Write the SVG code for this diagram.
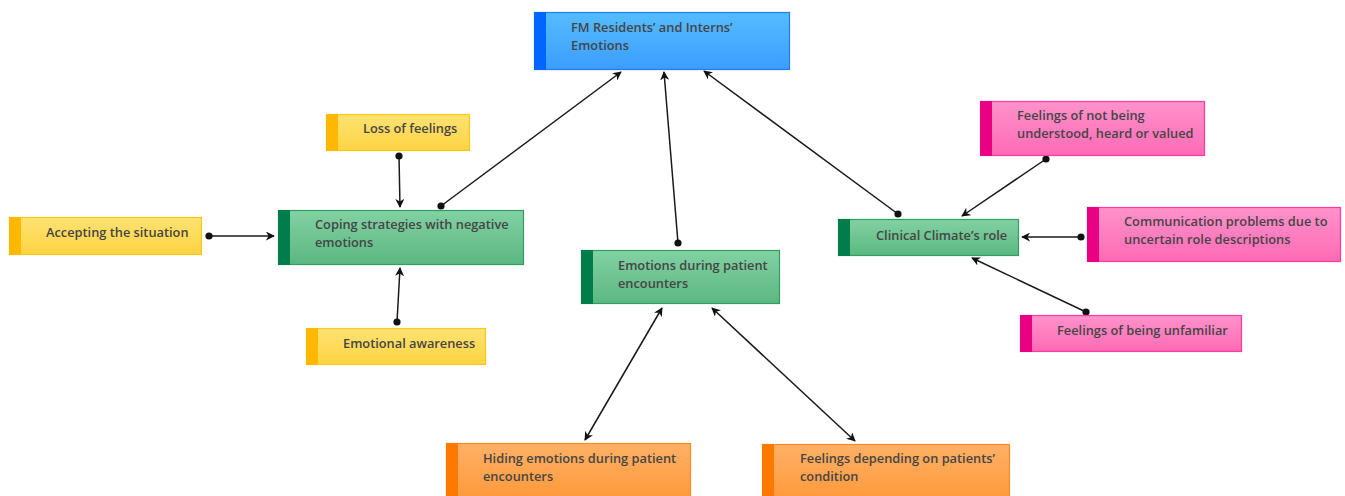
<svg xmlns="http://www.w3.org/2000/svg" width="1345" height="496" viewBox="0 0 1345 496">
<style>
text{font-family:"Open Sans","Noto Sans","DejaVu Sans",sans-serif;font-size:12.8px;font-weight:600;fill:#454545}
.c{stroke:#1a1a1a;stroke-width:1.5;fill:none}
.yb{fill:url(#gy);stroke:#ffc61a;stroke-width:1.2}
.gb{fill:url(#gg);stroke:#2e9e62;stroke-width:1.2}
.pb{fill:url(#gp);stroke:#ff3ba0;stroke-width:1.2}
.ob{fill:url(#go);stroke:#ff8a1f;stroke-width:1.2}
.bb{fill:url(#gb);stroke:#1a7dff;stroke-width:1.2}
.ys{fill:#ffb800}.gs{fill:#007d48}.ps{fill:#ea0083}.os{fill:#ff7800}.bs{fill:#0066ff}
</style>
<defs>
<linearGradient id="gy" x1="0" y1="0" x2="0" y2="1"><stop offset="0" stop-color="#ffe272"/><stop offset="1" stop-color="#ffd443"/></linearGradient>
<linearGradient id="gg" x1="0" y1="0" x2="0" y2="1"><stop offset="0" stop-color="#82d1a3"/><stop offset="1" stop-color="#5bb880"/></linearGradient>
<linearGradient id="gp" x1="0" y1="0" x2="0" y2="1"><stop offset="0" stop-color="#ff92cb"/><stop offset="1" stop-color="#ff6ab5"/></linearGradient>
<linearGradient id="go" x1="0" y1="0" x2="0" y2="1"><stop offset="0" stop-color="#ffb066"/><stop offset="1" stop-color="#ff9a3c"/></linearGradient>
<linearGradient id="gb" x1="0" y1="0" x2="0" y2="1"><stop offset="0" stop-color="#55bcff"/><stop offset="1" stop-color="#3b9eff"/></linearGradient>
<marker id="arr" viewBox="0 0 10 10" refX="9" refY="5" markerWidth="9" markerHeight="9" orient="auto-start-reverse" markerUnits="userSpaceOnUse"><path d="M0,0 L10,5 L0,10 L3,5 z" fill="#111"/></marker>
<marker id="dot" viewBox="0 0 10 10" refX="5" refY="5" markerWidth="8" markerHeight="8" markerUnits="userSpaceOnUse"><circle cx="5" cy="5" r="4.5" fill="#111"/></marker>
</defs>

<g id="connectors">
<line class="c" x1="441" y1="206" x2="621" y2="72" marker-start="url(#dot)" marker-end="url(#arr)"/>
<line class="c" x1="678" y1="243" x2="664" y2="72" marker-start="url(#dot)" marker-end="url(#arr)"/>
<line class="c" x1="898" y1="214" x2="704" y2="71" marker-start="url(#dot)" marker-end="url(#arr)"/>
<line class="c" x1="399" y1="156" x2="400" y2="207" marker-start="url(#dot)" marker-end="url(#arr)"/>
<line class="c" x1="209" y1="236" x2="274" y2="236" marker-start="url(#dot)" marker-end="url(#arr)"/>
<line class="c" x1="397" y1="322" x2="400" y2="268" marker-start="url(#dot)" marker-end="url(#arr)"/>
<line class="c" x1="662" y1="308" x2="585" y2="440" marker-start="url(#arr)" marker-end="url(#arr)"/>
<line class="c" x1="712" y1="308" x2="855" y2="441" marker-start="url(#arr)" marker-end="url(#arr)"/>
<line class="c" x1="1046" y1="159" x2="962" y2="216" marker-start="url(#dot)" marker-end="url(#arr)"/>
<line class="c" x1="1081" y1="237" x2="1022" y2="237" marker-start="url(#dot)" marker-end="url(#arr)"/>
<line class="c" x1="1086" y1="312" x2="972" y2="258" marker-start="url(#dot)" marker-end="url(#arr)"/>
</g>

<g id="fm">
<rect class="bb" x="534.5" y="12.5" width="255" height="57"/>
<rect class="bs" x="534" y="12" width="12" height="58"/>
<text x="571" y="32">FM Residents’ and Interns’</text>
<text x="571" y="50">Emotions</text>
</g>

<g id="coping">
<rect class="gb" x="278.5" y="210.5" width="245" height="54"/>
<rect class="gs" x="278" y="210" width="12" height="55"/>
<text x="315" y="229">Coping strategies with negative</text>
<text x="315" y="247">emotions</text>
</g>

<g id="accepting">
<rect class="yb" x="9.5" y="217.5" width="192" height="37"/>
<rect class="ys" x="9" y="217" width="12" height="38"/>
<text x="46" y="237">Accepting the situation</text>
</g>

<g id="loss">
<rect class="yb" x="326.5" y="114.5" width="143" height="36"/>
<rect class="ys" x="326" y="114" width="12" height="37"/>
<text x="363" y="133">Loss of feelings</text>
</g>

<g id="awareness">
<rect class="yb" x="306.5" y="328.5" width="179" height="36"/>
<rect class="ys" x="306" y="328" width="12" height="37"/>
<text x="343" y="348">Emotional awareness</text>
</g>

<g id="encounters">
<rect class="gb" x="581.5" y="250.5" width="198" height="53"/>
<rect class="gs" x="581" y="250" width="12" height="54"/>
<text x="618" y="270">Emotions during patient</text>
<text x="618" y="288">encounters</text>
</g>

<g id="climate">
<rect class="gb" x="838.5" y="219.5" width="180" height="36"/>
<rect class="gs" x="838" y="219" width="12" height="37"/>
<text x="876" y="240">Clinical Climate’s role</text>
</g>

<g id="understood">
<rect class="pb" x="980.5" y="101.5" width="224" height="54"/>
<rect class="ps" x="980" y="101" width="12" height="55"/>
<text x="1017" y="120">Feelings of not being</text>
<text x="1017" y="138">understood, heard or valued</text>
</g>

<g id="communication">
<rect class="pb" x="1087.5" y="207.5" width="253" height="54"/>
<rect class="ps" x="1087" y="207" width="12" height="55"/>
<text x="1124" y="226">Communication problems due to</text>
<text x="1124" y="244">uncertain role descriptions</text>
</g>

<g id="unfamiliar">
<rect class="pb" x="1020.5" y="315.5" width="221" height="36"/>
<rect class="ps" x="1020" y="315" width="12" height="37"/>
<text x="1057" y="335">Feelings of being unfamiliar</text>
</g>

<g id="hiding">
<rect class="ob" x="446.5" y="443.5" width="244" height="54"/>
<rect class="os" x="446" y="443" width="12" height="55"/>
<text x="483" y="463">Hiding emotions during patient</text>
<text x="483" y="481">encounters</text>
</g>

<g id="depending">
<rect class="ob" x="762.5" y="444.5" width="247" height="54"/>
<rect class="os" x="762" y="444" width="12" height="55"/>
<text x="800" y="463">Feelings depending on patients’</text>
<text x="800" y="481">condition</text>
</g>
</svg>
